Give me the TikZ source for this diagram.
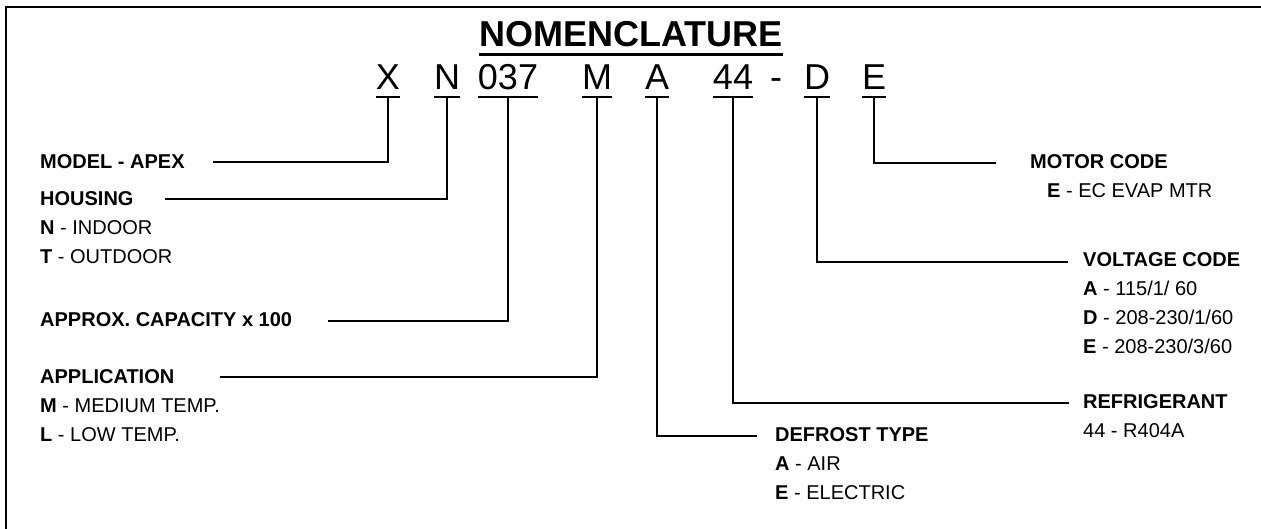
\documentclass[tikz,border=0pt]{standalone}
\usepackage{fontspec}
\setmainfont{Liberation Sans}
\begin{document}
\begin{tikzpicture}[x=1pt,y=-1pt,
  title/.style={anchor=base,inner sep=0pt,font=\fontsize{36}{36}\selectfont\bfseries},
  code/.style={anchor=base,inner sep=0pt,font=\fontsize{36}{36}\selectfont},
  hd/.style={anchor=base west,inner sep=0pt,font=\fontsize{20}{20}\selectfont\bfseries},
  item/.style={anchor=base west,inner sep=0pt,font=\fontsize{20}{20}\selectfont},
  ul/.style={line width=2.6pt},
  lead/.style={line width=1.4pt},
  frame/.style={line width=2pt}]
\useasboundingbox (0,0) rectangle (1261,528);
\begin{scope}
\clip (0,0) rectangle (1261,528);
\draw[frame] (6,7) rectangle (1300,560);
\end{scope}
% title
\node[title] (tt) at (631,46) {NOMENCLATURE};
\draw[line width=3pt] ([yshift=-8pt]tt.base west) -- ([yshift=-8pt]tt.base east);
% code letters
\node[code] (cX) at (388,89) {X};
\node[code] (cN) at (447,89) {N};
\node[code] (cC) at (508,89) {037};
\node[code] (cM) at (597,89) {M};
\node[code] (cA) at (657,89) {A};
\node[code] (cR) at (733,89) {44};
\node[code] (cH) at (776,89) {-};
\node[code] (cD) at (817,89) {D};
\node[code] (cE) at (874,89) {E};
\foreach \n in {cX,cN,cC,cM,cA,cR,cD,cE}{
  \draw[ul] ([yshift=-8pt]\n.base west) -- ([yshift=-8pt]\n.base east);
  \coordinate (\n u) at ([yshift=-8pt]\n.base);
}
% left labels
\node[hd] (model) at (40,168) {MODEL - APEX};
\node[hd] (house) at (40,205) {HOUSING};
\node[item] at (40,234) {\textbf{N} - INDOOR};
\node[item] at (40,263) {\textbf{T} - OUTDOOR};
\node[hd] (cap) at (40,326) {APPROX. CAPACITY x 100};
\node[hd] (app) at (40,383) {APPLICATION};
\node[item] at (40,412) {\textbf{M} - MEDIUM TEMP.};
\node[item] at (40,441) {\textbf{L} - LOW TEMP.};
% right labels
\node[hd] (motor) at (1030,168) {MOTOR CODE};
\node[item] at (1047,197) {\textbf{E} - EC EVAP MTR};
\node[hd] (volt) at (1083,266) {VOLTAGE CODE};
\node[item] at (1083,295) {\textbf{A} - 115/1/ 60};
\node[item] at (1083,324) {\textbf{D} - 208-230/1/60};
\node[item] at (1083,353) {\textbf{E} - 208-230/3/60};
\node[hd] (refr) at (1083,408) {REFRIGERANT};
\node[item] at (1083,437) {44 - R404A};
\node[hd] (defr) at (775,441) {DEFROST TYPE};
\node[item] at (775,470) {\textbf{A} - AIR};
\node[item] at (775,499) {\textbf{E} - ELECTRIC};
% leader ends
\coordinate (eX) at (213,162);
\coordinate (eN) at (165,199);
\coordinate (eC) at (328,321);
\coordinate (eM) at (220,377);
\coordinate (eA) at (757,436);
\coordinate (eR) at (1069,403);
\coordinate (eD) at (1068,262);
\coordinate (eE) at (996,163);
\foreach \n/\e in {cX/eX,cN/eN,cC/eC,cM/eM,cA/eA,cR/eR,cD/eD,cE/eE}{
  \draw[lead] (\n u) |- (\e);
}
\end{tikzpicture}
\end{document}
